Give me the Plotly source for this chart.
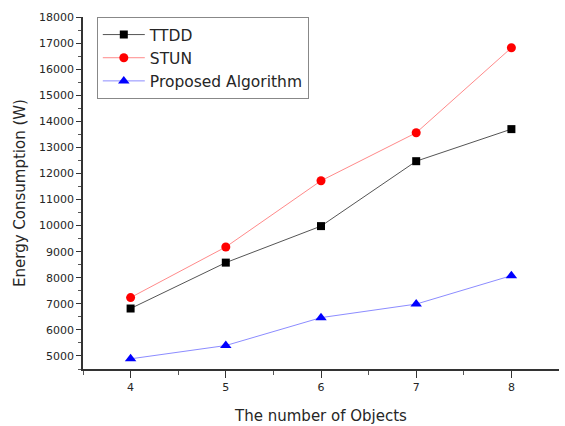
import plotly.graph_objects as go

objects = [4, 5, 6, 7, 8]
ttdd = [6820, 8580, 9980, 12470, 13700]
stun = [7240, 9180, 11720, 13560, 16820]
proposed = [4890, 5400, 6470, 6990, 8080]

y_ticks = list(range(5000, 18001, 1000))

FONT = "DejaVu Sans, Liberation Sans, Arial, sans-serif"
TXT = "#262626"

fig = go.Figure()
fig.add_trace(go.Scatter(
    x=objects, y=ttdd, mode="lines+markers", name="TTDD",
    line=dict(color="#555555", width=1),
    marker=dict(symbol="square", size=8, color="black"),
))
fig.add_trace(go.Scatter(
    x=objects, y=stun, mode="lines+markers", name="STUN",
    line=dict(color="#ff8a8a", width=1),
    marker=dict(symbol="circle", size=9, color="red"),
))
fig.add_trace(go.Scatter(
    x=objects, y=proposed, mode="lines+markers", name="Proposed Algorithm",
    line=dict(color="#8c8cff", width=1),
    marker=dict(symbol="triangle-up", size=10, color="blue"),
))

fig.update_layout(
    width=565, height=426,
    margin=dict(l=83, r=6, t=17, b=57),
    paper_bgcolor="white", plot_bgcolor="white",
    font=dict(family=FONT, color=TXT),
    showlegend=True,
    legend=dict(
        x=0.029, y=1.0, xanchor="left", yanchor="top",
        bordercolor="#888888", borderwidth=1, bgcolor="white",
        font=dict(size=15.5, color=TXT),
        tracegroupgap=0, itemsizing="trace", itemwidth=42,
    ),
    xaxis=dict(
        range=[3.5, 8.5], tickvals=objects, ticktext=[str(v) for v in objects],
        showgrid=False, zeroline=False, automargin=False,
        showline=True, linecolor="#333333", linewidth=1.5,
        ticks="outside", ticklen=7, tickwidth=1.2, tickcolor="#333333",
        minor=dict(ticks="outside", ticklen=4, tickwidth=1, tickcolor="#555555",
                   tickvals=[3.5, 4.5, 5.5, 6.5, 7.5], showgrid=False),
        tickfont=dict(size=11, color=TXT),
        title=dict(text="The number of Objects", font=dict(size=15, color=TXT), standoff=18),
    ),
    yaxis=dict(
        range=[4500, 18000], tickvals=y_ticks, ticktext=[str(v) for v in y_ticks],
        showgrid=False, zeroline=False, automargin=False,
        showline=True, linecolor="#333333", linewidth=1.5,
        ticks="outside", ticklen=5, tickwidth=1.2, tickcolor="#333333",
        minor=dict(ticks="outside", ticklen=3, tickwidth=1, tickcolor="#555555",
                   dtick=500, tick0=4500, showgrid=False),
        tickfont=dict(size=11, color=TXT),
        title=dict(text="Energy Consumption (W)", font=dict(size=15, color=TXT), standoff=10),
    ),
)

fig.write_html("out.html")
